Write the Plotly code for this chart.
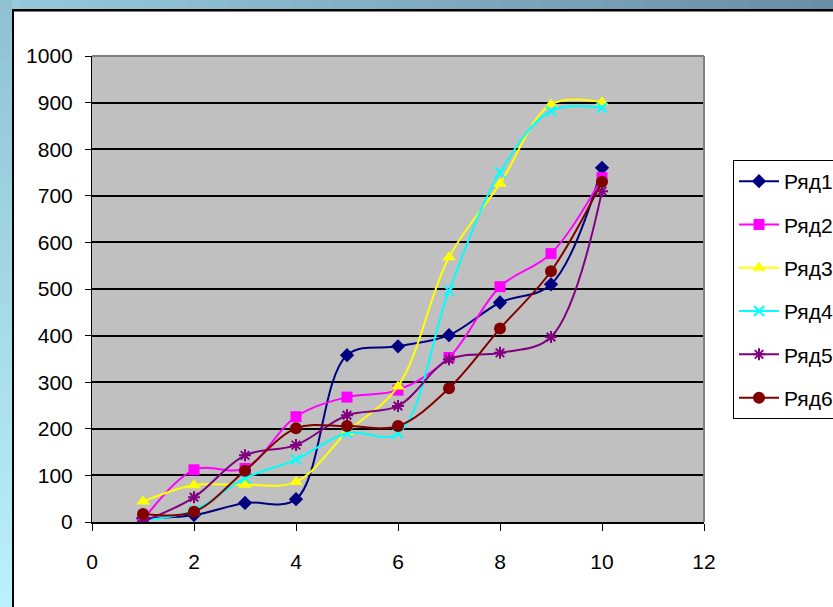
import plotly.graph_objects as go

# ---- data ----
x_vals = [1, 2, 3, 4, 5, 6, 7, 8, 9, 10]
series_names = ["Ряд1", "Ряд2", "Ряд3", "Ряд4", "Ряд5", "Ряд6"]
s1 = [8, 15, 41, 49, 358, 377, 401, 471, 510, 760]
s2 = [4, 112, 115, 226, 268, 283, 353, 505, 576, 739]
s3 = [44, 79, 80, 86, 193, 291, 568, 726, 896, 901]
s4 = [4, 25, 94, 134, 191, 190, 496, 750, 882, 889]
s5 = [1, 53, 143, 165, 229, 249, 349, 363, 397, 710]
s6 = [17, 22, 110, 201, 206, 206, 287, 415, 538, 730]
x_ticks = [0, 2, 4, 6, 8, 10, 12]
y_ticks = [0, 100, 200, 300, 400, 500, 600, 700, 800, 900, 1000]

series_values = [s1, s2, s3, s4, s5, s6]
colors = ["#000080", "#ff00ff", "#ffff00", "#00ffff", "#800080", "#800000"]
symbols = ["diamond", "square", "triangle-up", "x-thin", "asterisk", "circle"]
sizes = [11, 11, 12, 10, 10, 12]

FONT = "Liberation Sans Narrow, Arial Narrow, Liberation Sans, Arial"

W, H = 833, 607
ML, MR, MT, MB = 92, 129, 56, 85
PW, PH = W - ML - MR, H - MT - MB


def pxx(p):
    return (p - ML) / PW


def pxy(p):
    return (H - MB - p) / PH


fig = go.Figure()
for name, vals, c, sym, sz in zip(series_names, series_values, colors, symbols, sizes):
    mk = dict(symbol=sym, size=sz, color=c)
    if sym in ("x-thin", "asterisk"):
        mk["line"] = dict(color=c, width=2)
    fig.add_trace(go.Scatter(
        x=x_vals, y=vals, name=name, mode="lines+markers",
        line=dict(color=c, width=2, shape="spline", smoothing=1.0),
        marker=mk, legendgroup=name,
    ))


def hexmix(a, b, t):
    a = [int(a[i:i + 2], 16) for i in (1, 3, 5)]
    b = [int(b[i:i + 2], 16) for i in (1, 3, 5)]
    return "rgb(%d,%d,%d)" % tuple(round(a[i] + (b[i] - a[i]) * t) for i in range(3))


shapes = []
N = 40
# top gradient strip
for i in range(N):
    x0 = W * i / N
    x1 = W * (i + 1) / N + 1
    shapes.append(dict(type="rect", xref="paper", yref="paper",
                       x0=pxx(x0), x1=pxx(x1), y0=pxy(10), y1=pxy(0),
                       fillcolor=hexmix("#97cadb", "#6a8ea8", i / (N - 1)),
                       line=dict(width=0), layer="above"))
# left gradient strip
for i in range(N):
    y0 = H * i / N
    y1 = H * (i + 1) / N + 1
    shapes.append(dict(type="rect", xref="paper", yref="paper",
                       x0=pxx(0), x1=pxx(12), y0=pxy(y1), y1=pxy(y0),
                       fillcolor=hexmix("#8fc3d4", "#baeffc", i / (N - 1)),
                       line=dict(width=0), layer="above"))
# black frame lines
shapes.append(dict(type="rect", xref="paper", yref="paper",
                   x0=pxx(12), x1=pxx(W + 5), y0=pxy(11.5), y1=pxy(9),
                   fillcolor="black", line=dict(width=0), layer="above"))
shapes.append(dict(type="rect", xref="paper", yref="paper",
                   x0=pxx(12), x1=pxx(14), y0=pxy(H + 5), y1=pxy(9),
                   fillcolor="black", line=dict(width=0), layer="above"))
# grey plot-area border (top and right)
shapes.append(dict(type="line", xref="paper", yref="paper", x0=0, x1=1, y0=1, y1=1,
                   line=dict(color="#808080", width=2), layer="above"))
shapes.append(dict(type="line", xref="paper", yref="paper", x0=1, x1=1, y0=0, y1=1,
                   line=dict(color="#808080", width=2), layer="above"))

fig.update_layout(
    width=W, height=H,
    margin=dict(l=ML, r=MR, t=MT, b=MB, autoexpand=False),
    paper_bgcolor="white", plot_bgcolor="#c0c0c0",
    font=dict(family=FONT, size=21, color="black"),
    showlegend=True,
    legend=dict(x=pxx(733), y=pxy(160), xanchor="left", yanchor="top",
                bgcolor="white", bordercolor="black", borderwidth=1,
                font=dict(family=FONT, size=21, color="black"),
                tracegroupgap=13, itemwidth=40),
    xaxis=dict(range=[0, 12], tickvals=x_ticks, showgrid=False, zeroline=False,
               showline=True, linecolor="black", linewidth=2,
               ticks="outside", ticklen=7, tickcolor="black", tickwidth=1,
               ticklabelstandoff=13),
    yaxis=dict(range=[0, 1000], tickvals=y_ticks, showgrid=True, gridcolor="black",
               gridwidth=2, zeroline=False, showline=True, linecolor="black",
               linewidth=1, ticks="outside", ticklen=6, tickcolor="black",
               tickwidth=1, ticklabelstandoff=8),
    shapes=shapes,
)

fig.write_html("out.html")
